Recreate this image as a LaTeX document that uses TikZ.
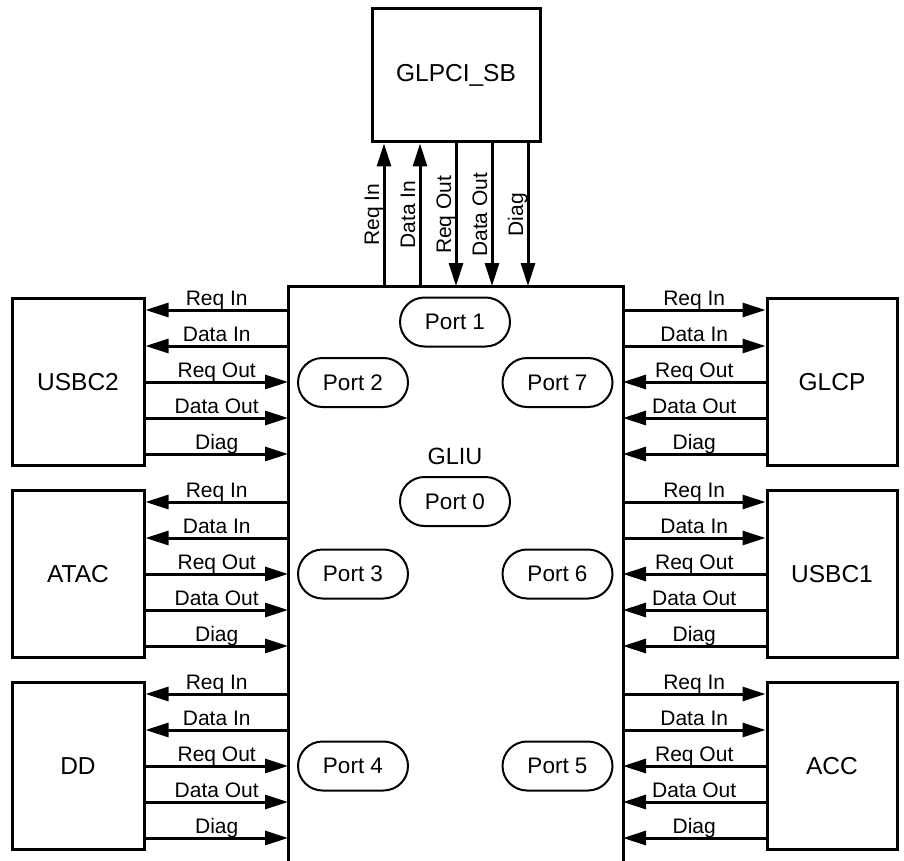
\documentclass[tikz,border=0pt]{standalone}
\usepackage{fontspec}
\setmainfont{Liberation Sans}
\usetikzlibrary{arrows.meta,calc,shapes.misc}
\tikzset{
  box/.style={draw, line width=3pt, rectangle, inner sep=0pt, minimum width=132pt, minimum height=167pt, font=\fontsize{24.5}{28}\selectfont},
  portnode/.style={draw, line width=2pt, rounded rectangle, minimum width=110pt, minimum height=49pt, inner sep=0pt, font=\fontsize{22.5}{26}\selectfont},
  tipA/.style={line width=3pt, -{Triangle[length=23pt,width=14pt]}},
  tipB/.style={line width=3pt, {Triangle[length=23pt,width=14pt]}-},
  lbl/.style={anchor=base, inner sep=0pt, font=\fontsize{21}{25}\selectfont},
  vlbl/.style={anchor=base, rotate=90, inner sep=0pt, font=\fontsize{21}{25}\selectfont},
}
\begin{document}
\begin{tikzpicture}[x=1pt,y=1pt]
\useasboundingbox (0,0) rectangle (904,-861);

% central GLIU (open at the bottom)
\node[rectangle, draw=none, inner sep=0pt, outer sep=0pt, minimum width=335pt, minimum height=575pt] (gliu) at (455.5,-573.5) {};
\draw[line width=3pt] (gliu.south west) -- (gliu.north west) -- (gliu.north east) -- (gliu.south east);
\node[font=\fontsize{23.5}{27}\selectfont] (gliulabel) at (455,-456) {GLIU};

% ports
\node[portnode] (p1) at (455,-322) {Port 1};
\node[portnode] (p2) at (353,-382.5) {Port 2};
\node[portnode] (p7) at (557.5,-382.5) {Port 7};
\node[portnode] (p0) at (455,-501.5) {Port 0};
\node[portnode] (p3) at (353,-574) {Port 3};
\node[portnode] (p6) at (557.5,-574) {Port 6};
\node[portnode] (p4) at (353,-766) {Port 4};
\node[portnode] (p5) at (557.5,-766) {Port 5};

% blocks
\node[box, minimum width=168pt, minimum height=133pt] (glpci) at (456,-75.5) {GLPCI\_SB};
\node[box] (usbc2) at (78,-382) {USBC2};
\node[box] (atac) at (78,-574) {ATAC};
\node[box] (dd) at (78,-766) {DD};
\node[box, minimum width=130pt] (glcp) at (832,-382) {GLCP};
\node[box, minimum width=130pt] (usbc1) at (832,-574) {USBC1};
\node[box, minimum width=130pt] (acc) at (832,-766) {ACC};

% top connectors
\foreach \dx/\t/\s in {-72/Req In/tipB, -36/Data In/tipB, 0/Req Out/tipA, 36/Data Out/tipA, 72/Diag/tipA}{
  \draw[\s] ($(glpci.south)+(\dx,0)$) coordinate (a) -- ($(glpci.south |- gliu.north)+(\dx,0)$) coordinate (b);
  \node[vlbl] at ($(a)!0.5!(b)+(-5,0)$) {\t};
}

% left connectors
\foreach \b in {usbc2,atac,dd}{
  \foreach \dy/\t/\s in {72/Req In/tipB, 36/Data In/tipB, 0/Req Out/tipA, -36/Data Out/tipA, -72/Diag/tipA}{
    \draw[\s] ($(\b.east)+(0,\dy)$) coordinate (a) -- ($(\b.east -| gliu.west)+(0,\dy)$) coordinate (b);
    \node[lbl] at ($(a)!0.5!(b)+(0,5)$) {\t};
  }
}

% right connectors
\foreach \b in {glcp,usbc1,acc}{
  \foreach \dy/\t/\s in {72/Req In/tipA, 36/Data In/tipA, 0/Req Out/tipB, -36/Data Out/tipB, -72/Diag/tipB}{
    \draw[\s] ($(\b.west -| gliu.east)+(0,\dy)$) coordinate (a) -- ($(\b.west)+(0,\dy)$) coordinate (b);
    \node[lbl] at ($(a)!0.5!(b)+(0,5)$) {\t};
  }
}
\end{tikzpicture}
\end{document}
